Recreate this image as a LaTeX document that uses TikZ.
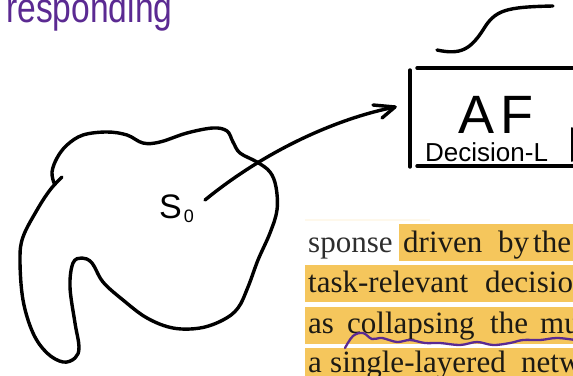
\documentclass[tikz,border=0pt]{standalone}
\usepackage{fontspec}
\setmainfont{Liberation Serif}
\newfontfamily\handfont{Liberation Sans}
\usetikzlibrary{arrows.meta}
\definecolor{hl}{HTML}{F5C65C}
\definecolor{pen}{HTML}{5B2A92}
\definecolor{ink}{HTML}{1C1A14}
\definecolor{gink}{HTML}{2E2E2E}
\begin{document}
\begin{tikzpicture}[x=1pt,y=-1pt,line cap=round,line join=round,
  pencil/.style={line width=3.4pt,black},
  word/.style={anchor=base west,inner sep=0pt,text=ink,font=\fontsize{31}{31}\selectfont},
  hand/.style={anchor=base west,inner sep=0pt,text=black}]
\useasboundingbox (0,0) rectangle (573,375);
\clip (0,0) rectangle (573,375);
\fill[white] (0,0) rectangle (573,375);

% highlights
\fill[hl!12] (305,219) rectangle (430,221);
\fill[hl] (399,224) rectangle (575,261);
\fill[hl] (305,265) rectangle (575,302);
\fill[hl] (305,307) rectangle (575,344);
\fill[hl] (305,348) rectangle (575,380);

% text lines
\node[word,text=gink] (w1a) at (308,252) {sponse};
\node[word] (w1b) at (403,252) {driven};
\node[word] (w1c) at (498,252) {by};
\node[word] (w1d) at (533,252) {the};
\node[word] (w2a) at (308,292) {task-relevant};
\node[word] (w2b) at (485,292) {decision};
\node[word] (w3a) at (308,333) {as};
\node[word] (w3b) at (347,333) {collapsing};
\node[word] (w3c) at (490,333) {the};
\node[word] (w3d) at (540,333) {mu};
\node[word] (w4a) at (308,372) {a};
\node[word] (w4b) at (330,372) {single-layered};
\node[word] (w4c) at (521,372) {netw};

% purple squiggle
\draw[pen,line width=2.3pt] plot[smooth,tension=0.6] coordinates {(345,348) (353,336) (363,333) (372,339) (382,338) (397,342) (410,340) (425,343) (440,343) (460,345) (477,342) (493,345) (510,343) (523,340) (540,340) (557,338) (575,340)};

% purple handwriting
\node[anchor=base west,inner sep=0pt,text=pen,font=\handfont\fontsize{42}{42}\selectfont] (resp) at (6,22) {\scalebox{0.8}[1]{responding}};

% blob
\draw[pencil] plot[smooth,tension=0.6] coordinates {(54,183) (52,172) (57,158) (67,145) (83,135) (107,132) (127,135) (143,143) (160,142) (187,133) (213,128) (227,131) (233,142) (240,153) (257,162) (270,172) (276,187) (277,210) (270,233) (258,260) (248,287) (238,308) (223,320) (200,328) (173,328) (147,318) (123,300) (103,282) (92,263) (82,258) (73,263) (70,287) (75,323) (79,347) (75,358) (63,362) (47,353) (33,333) (23,300) (20,260) (23,237) (37,210) (50,190) (62,177)};

% S0
\node[hand,font=\handfont\fontsize{34}{34}\selectfont] (s0) at (159,218) {S\kern2pt\raisebox{-4pt}{\fontsize{18}{18}\selectfont 0}};

% AF box
\node[hand,font=\handfont\fontsize{54}{54}\selectfont] (af) at (458,133) {A\kern6pt F};
\node[hand,font=\handfont\fontsize{26}{26}\selectfont] (dec) at (425,161) {Decision-L};
\coordinate (bl) at (410,167);
\coordinate (tl) at (410,70);
\draw[pencil] (tl) -- (bl);
\draw[pencil] (417,68) -- (575,68);
\draw[pencil] (417,166) -- (575,166);
\draw[line width=2pt] (572,128) -- (572,161);

% sigmoid
\draw[pencil] (437,50) .. controls (460,55) and (470,50) .. (483,30) .. controls (495,10) and (505,7) .. (553,6);

% arrow
\coordinate (tail) at (205,200);
\coordinate (tip) at (395,107);
\draw[pencil] (tail) .. controls (260,155) and (330,120) .. (tip);
\draw[pencil] (tip) ++(-22,-2) -- (tip) -- ++(-13,11);
\end{tikzpicture}
\end{document}
